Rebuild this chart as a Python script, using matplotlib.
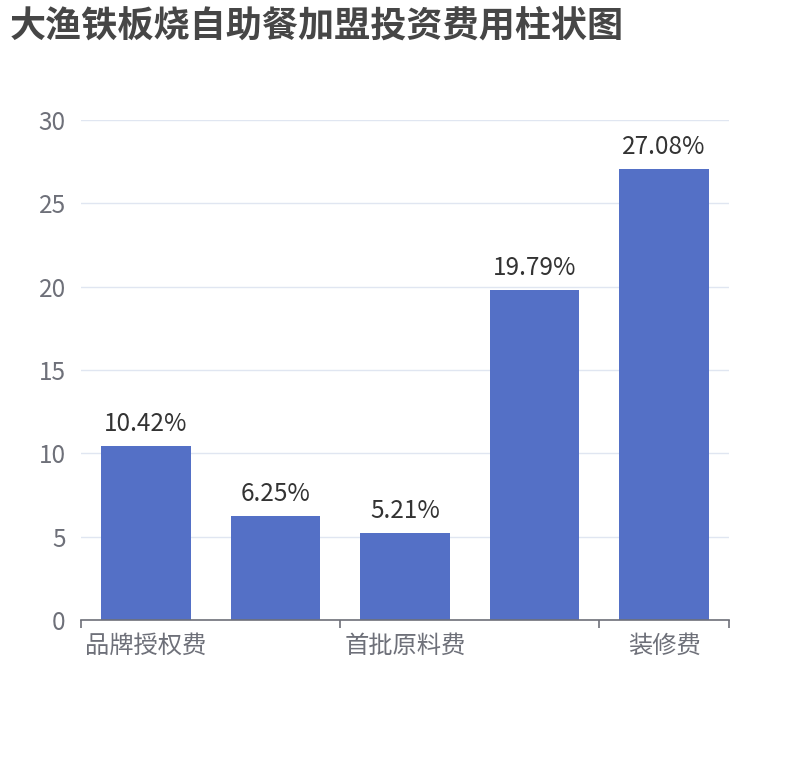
import matplotlib
matplotlib.use("Agg")
import matplotlib.pyplot as plt
import numpy as np

plt.rcParams['font.family'] = ['Noto Sans CJK SC', 'DejaVu Sans']

title = "大渔铁板烧自助餐加盟投资费用柱状图"
categories = ["品牌授权费", "加盟保证金", "首批原料费", "设备费", "装修费"]
values = [10.42, 6.25, 5.21, 19.79, 27.08]
yticks = [0, 5, 10, 15, 20, 25, 30]

W, H = 810, 760
fig = plt.figure(figsize=(W/100, H/100), dpi=100)
ax = fig.add_axes([81/W, (H-620)/H, (729-81)/W, 500/H])

x = np.arange(len(categories))
ax.bar(x, values, width=0.69, color="#5470c6", zorder=3)
ax.set_xlim(-0.5, len(categories) - 0.5)
ax.set_ylim(0, 30)

for xi, v in zip(x, values):
    ax.annotate(f"{v:.2f}%", (xi, v), xytext=(0, 9), textcoords="offset pixels",
                ha="center", va="bottom", fontsize=17.5, color="#333333")

ax.set_yticks(yticks)
ax.set_yticklabels([str(t) for t in yticks], fontsize=17.5, color="#6e7079")
ax.tick_params(axis="y", length=0, pad=11)
ax.yaxis.grid(True, color="#e0e6f1", linewidth=1, zorder=0)

# category labels (every other shown)
shown = list(range(0, len(categories), 2))
ax.set_xticks(x[shown])
ax.set_xticklabels([categories[i] for i in shown], fontsize=17.5, color="#6e7079")
ax.tick_params(axis="x", length=0, pad=9)
# boundary tick marks
bounds = [b - 0.5 for b in shown] + [len(categories) - 0.5]
ax.set_xticks(bounds, minor=True)
ax.tick_params(axis="x", which="minor", length=6, width=1.2, color="#6e7079")

for s in ["top", "right", "left"]:
    ax.spines[s].set_visible(False)
ax.spines["bottom"].set_color("#6e7079")
ax.spines["bottom"].set_linewidth(1.2)
ax.spines["bottom"].set_zorder(4)

fig.text(10/W, 1 - 27/H, title, fontsize=26, fontweight="bold", color="#464646",
         ha="left", va="center")

fig.savefig("out.png", dpi=100)
